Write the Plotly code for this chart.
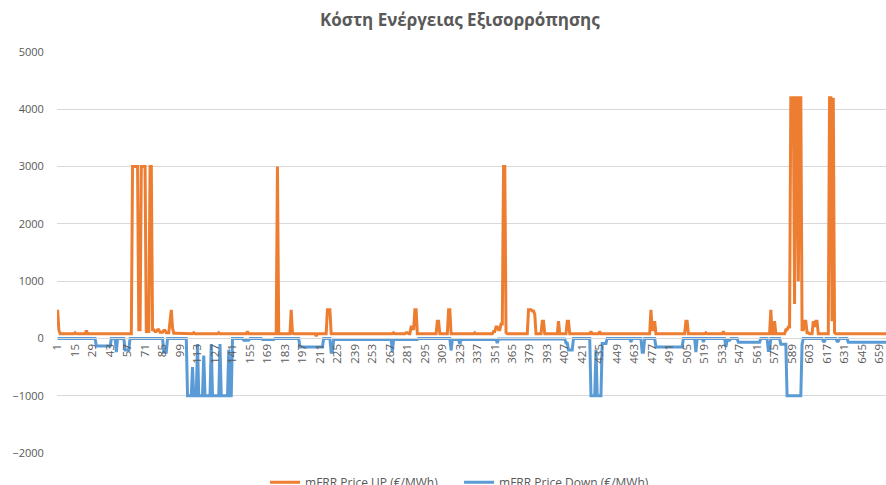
import plotly.graph_objects as go

TITLE = "Κόστη Ενέργειας Εξισορρόπησης"
SERIES_UP = "mFRR Price UP (€/MWh)"
SERIES_DOWN = "mFRR Price Down (€/MWh)"
N_POINTS = 672

# step data: (first category, value held from there)
UP_STEPS = [(1, 500), (2, 150), (3, 80), (15, 100), (16, 80), (24, 140), (25, 80), (41, 90), (45, 80),
            (61, 3000), (66, 150), (68, 3000), (72, 120), (75, 3000), (77, 150), (79, 120), (81, 150),
            (83, 110), (86, 140), (88, 100), (91, 300), (92, 500), (93, 180), (94, 90), (100, 80),
            (110, 100), (111, 80), (118, 90), (119, 80), (130, 100), (131, 80), (153, 120), (154, 80),
            (177, 3000), (178, 80), (188, 500), (189, 90), (190, 80), (208, 40), (209, 80),
            (217, 500), (220, 80), (270, 100), (271, 80), (280, 100), (282, 80), (284, 200), (286, 150),
            (287, 500), (289, 80), (305, 300), (307, 80), (314, 500), (316, 80), (335, 100), (336, 80),
            (350, 120), (352, 200), (354, 150), (356, 250), (358, 3000), (360, 100), (361, 80),
            (378, 500), (381, 480), (383, 420), (384, 80), (389, 300), (391, 80), (402, 300), (403, 80),
            (409, 300), (411, 80), (428, 120), (429, 80), (435, 120), (436, 80), (476, 500), (477, 150),
            (479, 300), (480, 80), (504, 300), (506, 80), (520, 100), (521, 80), (534, 120), (535, 80),
            (572, 500), (573, 80), (575, 300), (576, 80), (584, 150), (586, 200), (588, 4200), (591, 600),
            (592, 4200), (594, 1000), (595, 4200), (597, 150), (599, 300), (601, 100), (603, 80),
            (606, 300), (607, 200), (608, 300), (610, 80), (619, 4200), (621, 300), (622, 4200),
            (623, 100), (624, 80)]

DOWN_STEPS = [(1, 0), (32, -130), (43, -150), (44, 0), (48, -240), (49, 0), (55, -200), (59, 0),
              (86, -240), (89, 0), (105, -1000), (109, -500), (110, -1000), (113, -100), (114, -1000),
              (118, -300), (119, -1000), (124, -100), (125, -1000), (131, -100), (132, -1000),
              (138, -200), (139, -1000), (141, 0), (150, -30), (155, 0), (165, -20),
              (175, 0), (195, -150), (214, 0), (220, -240), (222, -20), (269, -230), (270, -20),
              (290, 0), (316, -210), (317, -20), (323, -100), (324, -20), (353, -80), (354, -10),
              (408, -80), (410, -200), (414, 0), (428, -1000), (432, -200), (433, -1000), (437, -90),
              (441, 0), (460, -60), (461, 0), (469, -240), (471, 0), (480, -150), (502, 0), (512, -240),
              (513, 0), (518, -60), (519, 0), (536, -150), (537, -30), (540, 0), (546, -65), (564, 0),
              (570, -210), (572, 0), (580, -100), (585, -1000), (597, -100), (598, 0), (614, -50),
              (616, 0), (625, -50), (627, 0), (634, -65)]

X_TICKS = list(range(1, 660, 14))
Y_TICKS = [-2000, -1000, 0, 1000, 2000, 3000, 4000, 5000]


def expand(steps, n):
    out = []
    for i, (start, val) in enumerate(steps):
        end = steps[i + 1][0] if i + 1 < len(steps) else n + 1
        out.extend([val] * (end - start))
    return out


cats = list(range(1, N_POINTS + 1))
up = expand(UP_STEPS, N_POINTS)
down = expand(DOWN_STEPS, N_POINTS)

GREY = "#595959"
FONT = "Open Sans"

fig = go.Figure()
fig.add_trace(go.Scatter(x=cats, y=up, mode="lines", name=SERIES_UP,
                         line=dict(color="#ED7D31", width=3)))
fig.add_trace(go.Scatter(x=cats, y=down, mode="lines", name=SERIES_DOWN,
                         line=dict(color="#5B9BD5", width=3)))

fig.update_layout(
    width=886, height=485,
    margin=dict(l=57, r=0, t=52, b=32, autoexpand=False),
    paper_bgcolor="white", plot_bgcolor="white",
    font=dict(family=FONT, size=11, color=GREY),
    title=dict(text="<b>" + TITLE + "</b>", x=0.519, xanchor="center", y=1 - 20 / 485, yanchor="middle",
               font=dict(family=FONT, size=17, color=GREY)),
    showlegend=True,
    legend=dict(orientation="h", x=0.485, xanchor="center", y=-0.073, yanchor="middle",
                entrywidth=149, font=dict(family=FONT, size=12, color=GREY), bgcolor="rgba(0,0,0,0)"),
    xaxis=dict(range=[0.5, 664.2], tickvals=X_TICKS, ticktext=[str(t) for t in X_TICKS],
               tickangle=-90, showgrid=False, zeroline=False, anchor="free", position=2 / 7,
               showline=True, linecolor="#d9d9d9", linewidth=1, ticks="", ticklabeloverflow="allow",
               tickfont=dict(family=FONT, size=11.5, color=GREY)),
    yaxis=dict(range=[-2000, 5000], tickvals=Y_TICKS, showgrid=True, gridcolor="#d9d9d9",
               gridwidth=1, zeroline=False, showline=False, ticks="outside", ticklen=10,
               tickcolor="rgba(0,0,0,0)", tickfont=dict(family=FONT, size=11, color=GREY)),
)

fig.write_html("out.html", config={"displayModeBar": False},
               post_script="document.body.style.margin='0';")
